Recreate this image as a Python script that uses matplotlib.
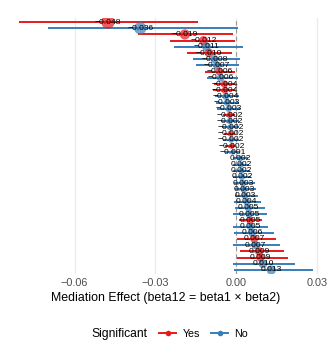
import numpy as np
import matplotlib
matplotlib.use("Agg")
import matplotlib.pyplot as plt
from matplotlib.lines import Line2D

plt.rcParams['font.family'] = ['Liberation Sans', 'DejaVu Sans']

# ---- data (ordered top to bottom) ----
effects = [-0.0476, -0.0356, -0.0190, -0.0121, -0.0110, -0.0100, -0.0080, -0.0070,
           -0.0062, -0.0057, -0.0043, -0.0041, -0.0038, -0.0033, -0.0027, -0.0024,
           -0.0023, -0.0021, -0.0020, -0.0018, -0.0016, -0.0012, 0.0016, 0.0018,
           0.0020, 0.0022, 0.0026, 0.0029, 0.0033, 0.0040, 0.0046, 0.0049,
           0.0052, 0.0054, 0.0060, 0.0068, 0.0072, 0.0086, 0.0091, 0.0100, 0.0131]
ci_low = [-0.0807, -0.0700, -0.0365, -0.0246, -0.0231, -0.0182, -0.0160, -0.0149,
          -0.0115, -0.0108, -0.0082, -0.0085, -0.0078, -0.0074, -0.0070, -0.0050,
          -0.0055, -0.0052, -0.0043, -0.0050, -0.0040, -0.0040, -0.0012, -0.0010,
          -0.0012, -0.0010, -0.0007, -0.0004, -0.0002, -0.0007, -0.0004, -0.0011,
          0.0011, -0.0011, -0.0007, 0.0004, -0.0011, 0.0015, 0.0004, -0.0011, -0.0007]
ci_high = [-0.0141, 0.0007, -0.0012, -0.0003, 0.0026, -0.0016, 0.0015, 0.0011,
           -0.0004, 0.0007, -0.0002, -0.0003, 0.0010, 0.0012, 0.0015, -0.0002,
           0.0010, 0.0012, -0.0002, 0.0012, -0.0002, 0.0015, 0.0045, 0.0048,
           0.0052, 0.0055, 0.0071, 0.0074, 0.0080, 0.0093, 0.0108, 0.0115,
           0.0097, 0.0119, 0.0141, 0.0149, 0.0164, 0.0179, 0.0193, 0.0220, 0.0286]
significant = ['Yes', 'No', 'Yes', 'Yes', 'No', 'Yes', 'No', 'No', 'Yes', 'No',
               'Yes', 'Yes', 'No', 'No', 'No', 'Yes', 'No', 'No', 'Yes', 'No',
               'Yes', 'No', 'No', 'No', 'No', 'No', 'No', 'No', 'No', 'No',
               'No', 'No', 'Yes', 'No', 'No', 'Yes', 'No', 'Yes', 'Yes', 'No', 'No']
x_ticks = [-0.06, -0.03, 0.00, 0.03]
x_tick_labels = ['\u22120.06', '\u22120.03', '0.00', '0.03']
colors = {'Yes': '#E41A1C', 'No': '#377EB8'}

W, H = 328, 349
fig = plt.figure(figsize=(W / 100, H / 100), dpi=100)
ax_left, ax_right, ax_top, ax_bot = 7.3, 324.8, 18.3, 273.7
ax = fig.add_axes([ax_left / W, 1 - ax_bot / H, (ax_right - ax_left) / W, (ax_bot - ax_top) / H])

n = len(effects)
ys = np.arange(n)
eff = np.array(effects)
absv = np.abs(eff)
rs = (absv - absv.min()) / (absv.max() - absv.min())
diam_px = 5.0 + 8.5 * np.sqrt(rs)
diam_pt = diam_px * 0.72
for gx in x_ticks:
    ax.axvline(gx, color='#EBEBEB', lw=1.0, zorder=0)
ax.axvline(0, color='#999999', lw=0.8, ls=(0, (4, 3)), zorder=1)

for i in range(n):
    c = colors[significant[i]]
    ax.plot([ci_low[i], ci_high[i]], [ys[i], ys[i]], color=c, lw=1.4, solid_capstyle='butt', zorder=2)
ax.scatter(eff, ys, s=diam_pt ** 2, c=[colors[s] for s in significant], alpha=0.7,
           edgecolors='none', zorder=3)
for i in range(n):
    lab = f"{effects[i]:.3f}".replace('-', '\u2212')
    ax.text(effects[i], ys[i], lab, ha='center', va='center', fontsize=6.1, color='black', zorder=4)

ax.set_xlim(-0.085, 0.033)
ax.set_ylim(n - 0.4, -0.6)
ax.set_yticks([])
ax.set_xticks(x_ticks)
ax.set_xticklabels(x_tick_labels, fontsize=7.8, color='#4D4D4D')
ax.tick_params(axis='x', length=0, pad=3)
for sp in ax.spines.values():
    sp.set_visible(False)
ax.set_xlabel('Mediation Effect (beta12 = beta1 \u00d7 beta2)', fontsize=8.9, color='black', labelpad=3)

fig.text(91 / W, 1 - 334 / H, 'Significant', fontsize=8.7, va='center', ha='left')
handles = [Line2D([0], [0], color=colors[k], lw=1.4, marker='o', markersize=4, alpha=1,
                  markerfacecolor=colors[k], markeredgecolor='none') for k in ['Yes', 'No']]
leg = fig.legend(handles, ['Yes', 'No'], ncol=2, loc='center left',
                 bbox_to_anchor=(154 / W, 1 - 334 / H), frameon=False, fontsize=7.7,
                 handlelength=1.6, handletextpad=0.6, columnspacing=1.0, borderpad=0)
fig.savefig('out.png', dpi=100)
